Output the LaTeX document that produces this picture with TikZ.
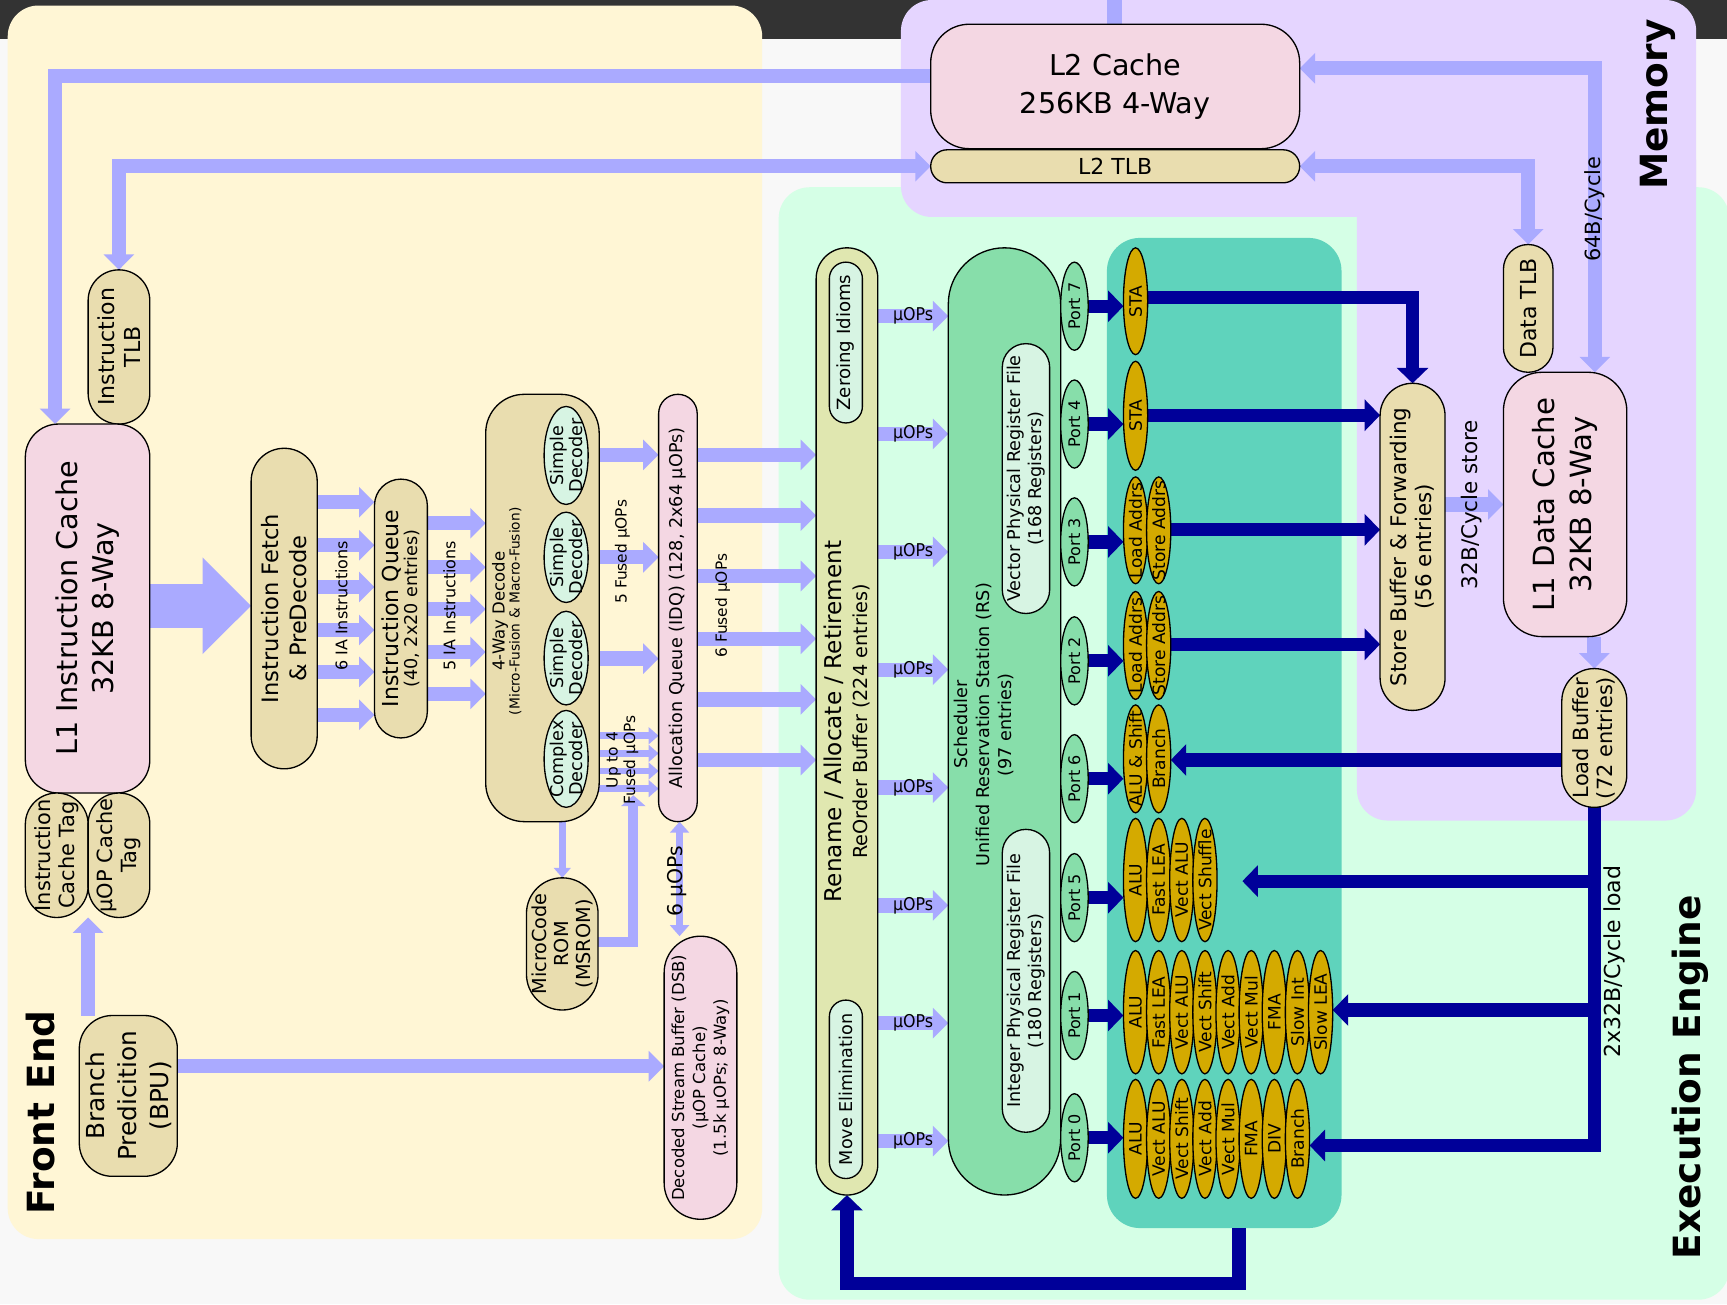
\documentclass[tikz,border=0pt]{standalone}
\usepackage{fontspec}
\setmainfont{DejaVu Sans}
\newfontfamily\condf{DejaVu Sans Condensed}
\usetikzlibrary{arrows.meta,shapes.geometric}
\pgfdeclarelayer{panel}\pgfdeclarelayer{arr}\pgfsetlayers{panel,arr,main}
\definecolor{bgc}{HTML}{F8F8F8}
\definecolor{topc}{HTML}{333333}
\definecolor{fec}{HTML}{FFF6D5}
\definecolor{memc}{HTML}{E5D5FF}
\definecolor{exc}{HTML}{D5FFE6}
\definecolor{euc}{HTML}{5FD3BC}
\definecolor{pinkc}{HTML}{F4D7E3}
\definecolor{tanc}{HTML}{E9DDAF}
\definecolor{lbc}{HTML}{AAAAFF}
\definecolor{dbc}{HTML}{000099}
\definecolor{goldc}{HTML}{D4AA00}
\definecolor{schc}{HTML}{87DEAA}
\definecolor{renc}{HTML}{E0E7B0}
\definecolor{palec}{HTML}{D7F4E3}
\newcommand\fs[2]{\fontsize{#1}{#2}\selectfont}
% name, x1, y1, x2, y2, shape style, font, text
\newcommand\blk[8]{%
 \pgfmathsetmacro\blkW{#4-(#2)}%
 \pgfmathsetmacro\blkH{#5-(#3)}%
 \pgfmathsetmacro\blkR{min(\blkW,\blkH)/2-0.05}%
 \node[#6, minimum width=\blkW pt, minimum height=\blkH pt] (#1) at ({(#2+#4)/2},{(#3+#5)/2}) {};%
 \node[rotate=90, align=center, inner sep=0pt, font={#7}] (#1-t) at (#1.center) {#8};}
\newcommand\unitrow[4]{%
 \foreach \lab [count=\i from 0] in {#4} {%
  \pgfmathsetmacro\ux{1020+21*\i}%
  \blk{u#1-\i}{\ux}{#2}{\ux+22}{#3}{ell,fill=goldc}{\fs{15.5}{17}}{\lab}}}
\tikzset{
 box/.style={draw=black, line width=1.2pt, inner sep=0pt, outer sep=0pt, rectangle},
 pill/.style={box, rounded corners=\blkR pt},
 ell/.style={draw=black, line width=1.2pt, inner sep=0pt, outer sep=0pt, ellipse},
 lba/.style={draw=lbc, line width=13pt, -{Triangle[width=27pt,length=14pt]}},
 lbb/.style={draw=lbc, line width=13pt, {Triangle[width=27pt,length=14pt]}-{Triangle[width=27pt,length=14pt]}},
 lbs/.style={draw=lbc, line width=6pt, -{Triangle[width=15pt,length=9pt]}},
 dba/.style={draw=dbc, line width=12pt, -{Triangle[width=28pt,length=14pt]}},
 lab/.style={rotate=90, inner sep=0pt, align=center},
}
\begin{document}
\begin{tikzpicture}[x=1pt,y=-1pt]
\useasboundingbox (0,0) rectangle (1568,1184);
\begin{pgfonlayer}{panel}
\fill[bgc] (0,0) rectangle (1568,1184);
\fill[topc] (0,0) rectangle (1568,35);
\fill[fec, rounded corners=28pt] (7,5) rectangle (692,1125);
\fill[exc, rounded corners=28pt] (707,170) rectangle (1570,1180);
\fill[memc, rounded corners=28pt] (818,0) rectangle (1540,197);
\fill[memc, rounded corners=28pt] (1232,120) rectangle (1540,745);
\fill[euc, rounded corners=30pt] (1005,216) rectangle (1218,1115);
\end{pgfonlayer}

% ---------- Front End ----------
\blk{ltlb}{80}{245}{136}{385}{pill,fill=tanc}{\fs{20}{24}}{Instruction\\TLB}
\blk{l1i}{23}{385}{136}{720}{box,rounded corners=30pt,fill=pinkc}{\fs{26}{33}}{L1 Instruction Cache\\32KB 8-Way}
\blk{ictag}{23}{720}{80}{833}{pill,fill=tanc}{\fs{19}{22}}{Instruction\\Cache Tag}
\blk{uctag}{80}{720}{136}{833}{pill,fill=tanc}{\fs{19}{22}}{µOP Cache\\Tag}
\blk{bpu}{72}{922}{161}{1068}{box,rounded corners=30pt,fill=tanc}{\fs{22.5}{29}}{Branch\\Predicition\\(BPU)}
\blk{fetch}{228}{407}{288}{698}{pill,fill=tanc}{\fs{20.5}{25}}{Instruction Fetch\\\& PreDecode}
\blk{iq}{340}{435}{388}{670}{pill,fill=tanc}{\fs{20}{17}}{Instruction Queue\\\fs{16}{17}(40, 2x20 entries)}
\blk{dec}{441}{358}{544}{746}{box,rounded corners=35pt,fill=tanc}{}{}
\node[lab] (dec-t2) at (460,555) {\fs{15}{17}4-Way Decode\\\fs{12.5}{15}(Micro-Fusion \& Macro-Fusion)};
\blk{sd1}{494}{369}{534}{458}{ell,fill=palec}{\fs{16}{17}}{Simple\\Decoder}
\blk{sd2}{494}{465}{534}{547}{ell,fill=palec}{\fs{16}{17}}{Simple\\Decoder}
\blk{sd3}{494}{555}{534}{640}{ell,fill=palec}{\fs{16}{17}}{Simple\\Decoder}
\blk{cd}{494}{645}{534}{733}{ell,fill=palec}{\fs{16}{17}}{Complex\\Decoder}
\blk{msrom}{478}{797}{543}{917}{pill,fill=tanc}{\fs{17.5}{20}}{MicroCode\\ROM\\(MSROM)}
\blk{idq}{598}{358}{633}{746}{pill,fill=pinkc}{\fs{16}{18}}{Allocation Queue (IDQ) (128, 2x64 µOPs)}
\blk{dsb}{603}{850}{669}{1107}{pill,fill=pinkc}{\fs{15}{19}}{Decoded Stream Buffer (DSB)\\(µOP Cache)\\(1.5k µOPs; 8-Way)}

% ---------- Memory ----------
\blk{l2}{845}{22}{1180}{135}{box,rounded corners=35pt,fill=pinkc}{}{}
\node[align=center, inner sep=0pt, font={\fs{26}{34}}] (l2-h) at (l2.center) {L2 Cache\\256KB 4-Way};
\blk{l2tlb}{845}{136}{1180}{166}{pill,fill=tanc}{}{}
\node[inner sep=0pt, font={\fs{20}{22}}] (l2tlb-h) at (l2tlb.center) {L2 TLB};
\blk{dtlb}{1365}{222}{1410}{338}{pill,fill=tanc}{\fs{20}{22}}{Data TLB}
\blk{l1d}{1365}{338}{1477}{578}{box,rounded corners=35pt,fill=pinkc}{\fs{26.5}{33}}{L1 Data Cache\\32KB 8-Way}
\blk{sb}{1253}{348}{1312}{645}{pill,fill=tanc}{\fs{19.5}{23}}{Store Buffer \& Forwarding\\(56 entries)}
\blk{lb}{1418}{607}{1477}{733}{pill,fill=tanc}{\fs{19}{22}}{Load Buffer\\(72 entries)}

% ---------- Execution Engine ----------
\blk{ren}{741}{225}{797}{1085}{pill,fill=renc}{\fs{21}{24}}{Rename / Allocate / Retirement\\\fs{17.5}{21}ReOrder Buffer (224 entries)}
\blk{zero}{753}{238}{783}{384}{pill,fill=palec}{\fs{16.5}{18}}{Zeroing Idioms}
\blk{move}{753}{908}{783}{1070}{pill,fill=palec}{\fs{16}{18}}{Move Elimination}
\blk{sched}{861}{225}{963}{1085}{pill,fill=schc}{}{}
\node[lab, font={\fs{16}{20}}] (sched-t2) at (893,658) {Scheduler\\Unified Reservation Station (RS)\\(97 entries)};
\blk{vrf}{910}{312}{953}{557}{pill,fill=palec}{\fs{16}{19}}{Vector Physical Register File\\(168 Registers)}
\blk{irf}{910}{753}{953}{1028}{pill,fill=palec}{\fs{16}{19}}{Integer Physical Register File\\(180 Registers)}
\blk{p7}{963}{238}{988}{318}{ell,fill=schc}{\fs{14.5}{16}}{Port 7}
\blk{p4}{963}{345}{988}{425}{ell,fill=schc}{\fs{14.5}{16}}{Port 4}
\blk{p3}{963}{452}{988}{532}{ell,fill=schc}{\fs{14.5}{16}}{Port 3}
\blk{p2}{963}{560}{988}{640}{ell,fill=schc}{\fs{14.5}{16}}{Port 2}
\blk{p6}{963}{667}{988}{747}{ell,fill=schc}{\fs{14.5}{16}}{Port 6}
\blk{p5}{963}{775}{988}{855}{ell,fill=schc}{\fs{14.5}{16}}{Port 5}
\blk{p1}{963}{882}{988}{962}{ell,fill=schc}{\fs{14.5}{16}}{Port 1}
\blk{p0}{963}{993}{988}{1073}{ell,fill=schc}{\fs{14.5}{16}}{Port 0}
\unitrow{7}{225}{322}{STA}
\unitrow{4}{328}{427}{STA}
\unitrow{3}{433}{530}{Load Addrs,Store Addrs}
\unitrow{2}{537}{635}{Load Addrs,Store Addrs}
\unitrow{6}{640}{738}{ALU \& Shift,Branch}
\unitrow{5}{743}{855}{ALU,Fast LEA,Vect ALU,Vect Shuffle}
\unitrow{1}{863}{975}{ALU,Fast LEA,Vect ALU,Vect Shift,Vect Add,Vect Mul,FMA,Slow Int,Slow LEA}
\unitrow{0}{980}{1088}{ALU,Vect ALU,Vect Shift,Vect Add,Vect Mul,FMA,DIV,Branch}

\coordinate (l2up) at (1012,-5);
\coordinate (msin) at (575,722);
\coordinate (p5in) at (1128,800);
\coordinate (retout) at (1125,1115);

% ---------- connectors ----------
\begin{pgfonlayer}{arr}
\draw[draw=lbc,line width=13pt] (l2.north -| l2up) -- (l2up);
\draw[lba] (l2.west |- 0,69) -- (50,69) -- (l1i.north -| 50,0);
\draw[lbb] (l2tlb.west) -- (ltlb.north |- l2tlb.west) -- (ltlb.north);
\draw[lbb] (l2.east |- 0,62) -- (1448,62) -- (l1d.north -| 1448,0);
\draw[lbb] (l2tlb.east) -- (dtlb.north |- l2tlb.east) -- (dtlb.north);
\draw[lba] (sb.east |- 0,458) -- (l1d.west |- 0,458);
\draw[lba] (l1d.south -| lb.north) -- (lb.north);
\draw[lba] (bpu.north -| ictag.south east) -- (ictag.south east);
\draw[lba] (bpu.east |- 0,968) -- (dsb.west |- 0,968);
\draw[draw=lbc, line width=7pt, {Triangle[width=17pt,length=10pt]}-{Triangle[width=17pt,length=10pt]}] (idq.south -| 617,0) -- (dsb.north -| 617,0);
\draw[draw=lbc, line width=40pt, -{Triangle[width=85pt,length=44pt]}] (l1i.east |- 0,550) -- (fetch.west |- 0,550);
\foreach \yy in {456,495,533,572,610,649} \draw[lba] (fetch.east |- 0,\yy) -- (iq.west |- 0,\yy);
\foreach \yy in {475,515,553,592,630} \draw[lba] (iq.east |- 0,\yy) -- (dec.west |- 0,\yy);
\foreach \yy in {413,506,598} \draw[lba] (dec.east |- 0,\yy) -- (idq.west |- 0,\yy);
\foreach \yy in {668,684,700,716} \draw[lbs] (dec.east |- 0,\yy) -- (idq.west |- 0,\yy);
\draw[lbs] (dec.south -| msrom.north) -- (msrom.north);
\draw[draw=lbc, line width=9pt, -{Triangle[width=22pt,length=10pt]}] (msrom.east |- 0,855) -- (msin |- 0,855) -- (msin);
\foreach \yy in {413,468,523,580,635,690} \draw[lba] (idq.east |- 0,\yy) -- (ren.west |- 0,\yy);
\foreach \yy [count=\k] in {287,394,501,608,715,822,929,1036}
  \draw[lba] (ren.east |- 0,\yy) -- node[inner sep=0pt, font={\condf\fs{16}{18}}] (mu\k) {µOPs} (sched.west |- 0,\yy);
\foreach \pp/\uu in {7/u7-0,4/u4-0,3/u3-0,2/u2-0,6/u6-0,5/u5-0,1/u1-0,0/u0-0}
  \draw[dba] (p\pp.east) -- (\uu.west |- p\pp.east);
\draw[dba] (u7-0.east |- 0,270) -- (sb.north |- 0,270) -- (sb.north);
\draw[dba] (u4-0.east |- 0,377) -- (sb.west |- 0,377);
\draw[dba] (u3-1.east |- 0,481) -- (sb.west |- 0,481);
\draw[dba] (u2-1.east |- 0,585) -- (sb.west |- 0,585);
\draw[dba] (lb.west |- 0,690) -- (u6-1.east |- 0,690);
\draw[dba] (lb.south) -- (lb.south |- 0,1040) -- (u0-7.east |- 0,1040);
\draw[dba] (lb.south |- 0,917) -- (u1-8.east |- 0,917);
\draw[dba] (lb.south |- p5in) -- (p5in);
\draw[dba] (retout) -- (retout |- 0,1165) -- (ren.south |- 0,1165) -- (ren.south);
\end{pgfonlayer}

% ---------- labels ----------
\node[lab, font={\fs{14.5}{16}}] (lab6ia) at (310,550) {6 IA Instructions};
\node[lab, font={\fs{14.5}{16}}] (lab5ia) at (408,550) {5 IA Instructions};
\node[lab, font={\fs{14}{16}}] (lab5f) at (565,501) {5 Fused µOPs};
\node[lab, font={\fs{14}{16}}] (labup4) at (565,690) {Up to 4\\Fused µOPs};
\node[lab, font={\fs{14}{16}}] (lab6f) at (656,550) {6 Fused µOPs};
\node[lab, font={\fs{18.5}{20}}] (lab6u) at (615,800) {6 µOPs};
\node[lab, font={\fs{34}{40}\bfseries}] (labfe) at (37,1010) {Front End};
\node[lab, font={\fs{19}{22}}] (lab64) at (1448,190) {64B/Cycle};
\node[lab, font={\fs{19.5}{22}}] (lab32) at (1336,458) {32B/Cycle store};
\node[lab, font={\fs{34}{40}\bfseries}] (labmem) at (1505,95) {Memory};
\node[lab, font={\fs{20}{22}}] (labld) at (1466,873) {2x32B/Cycle load};
\node[lab, font={\fs{34}{40}\bfseries}] (labee) at (1535,978) {Execution Engine};
\end{tikzpicture}
\end{document}
